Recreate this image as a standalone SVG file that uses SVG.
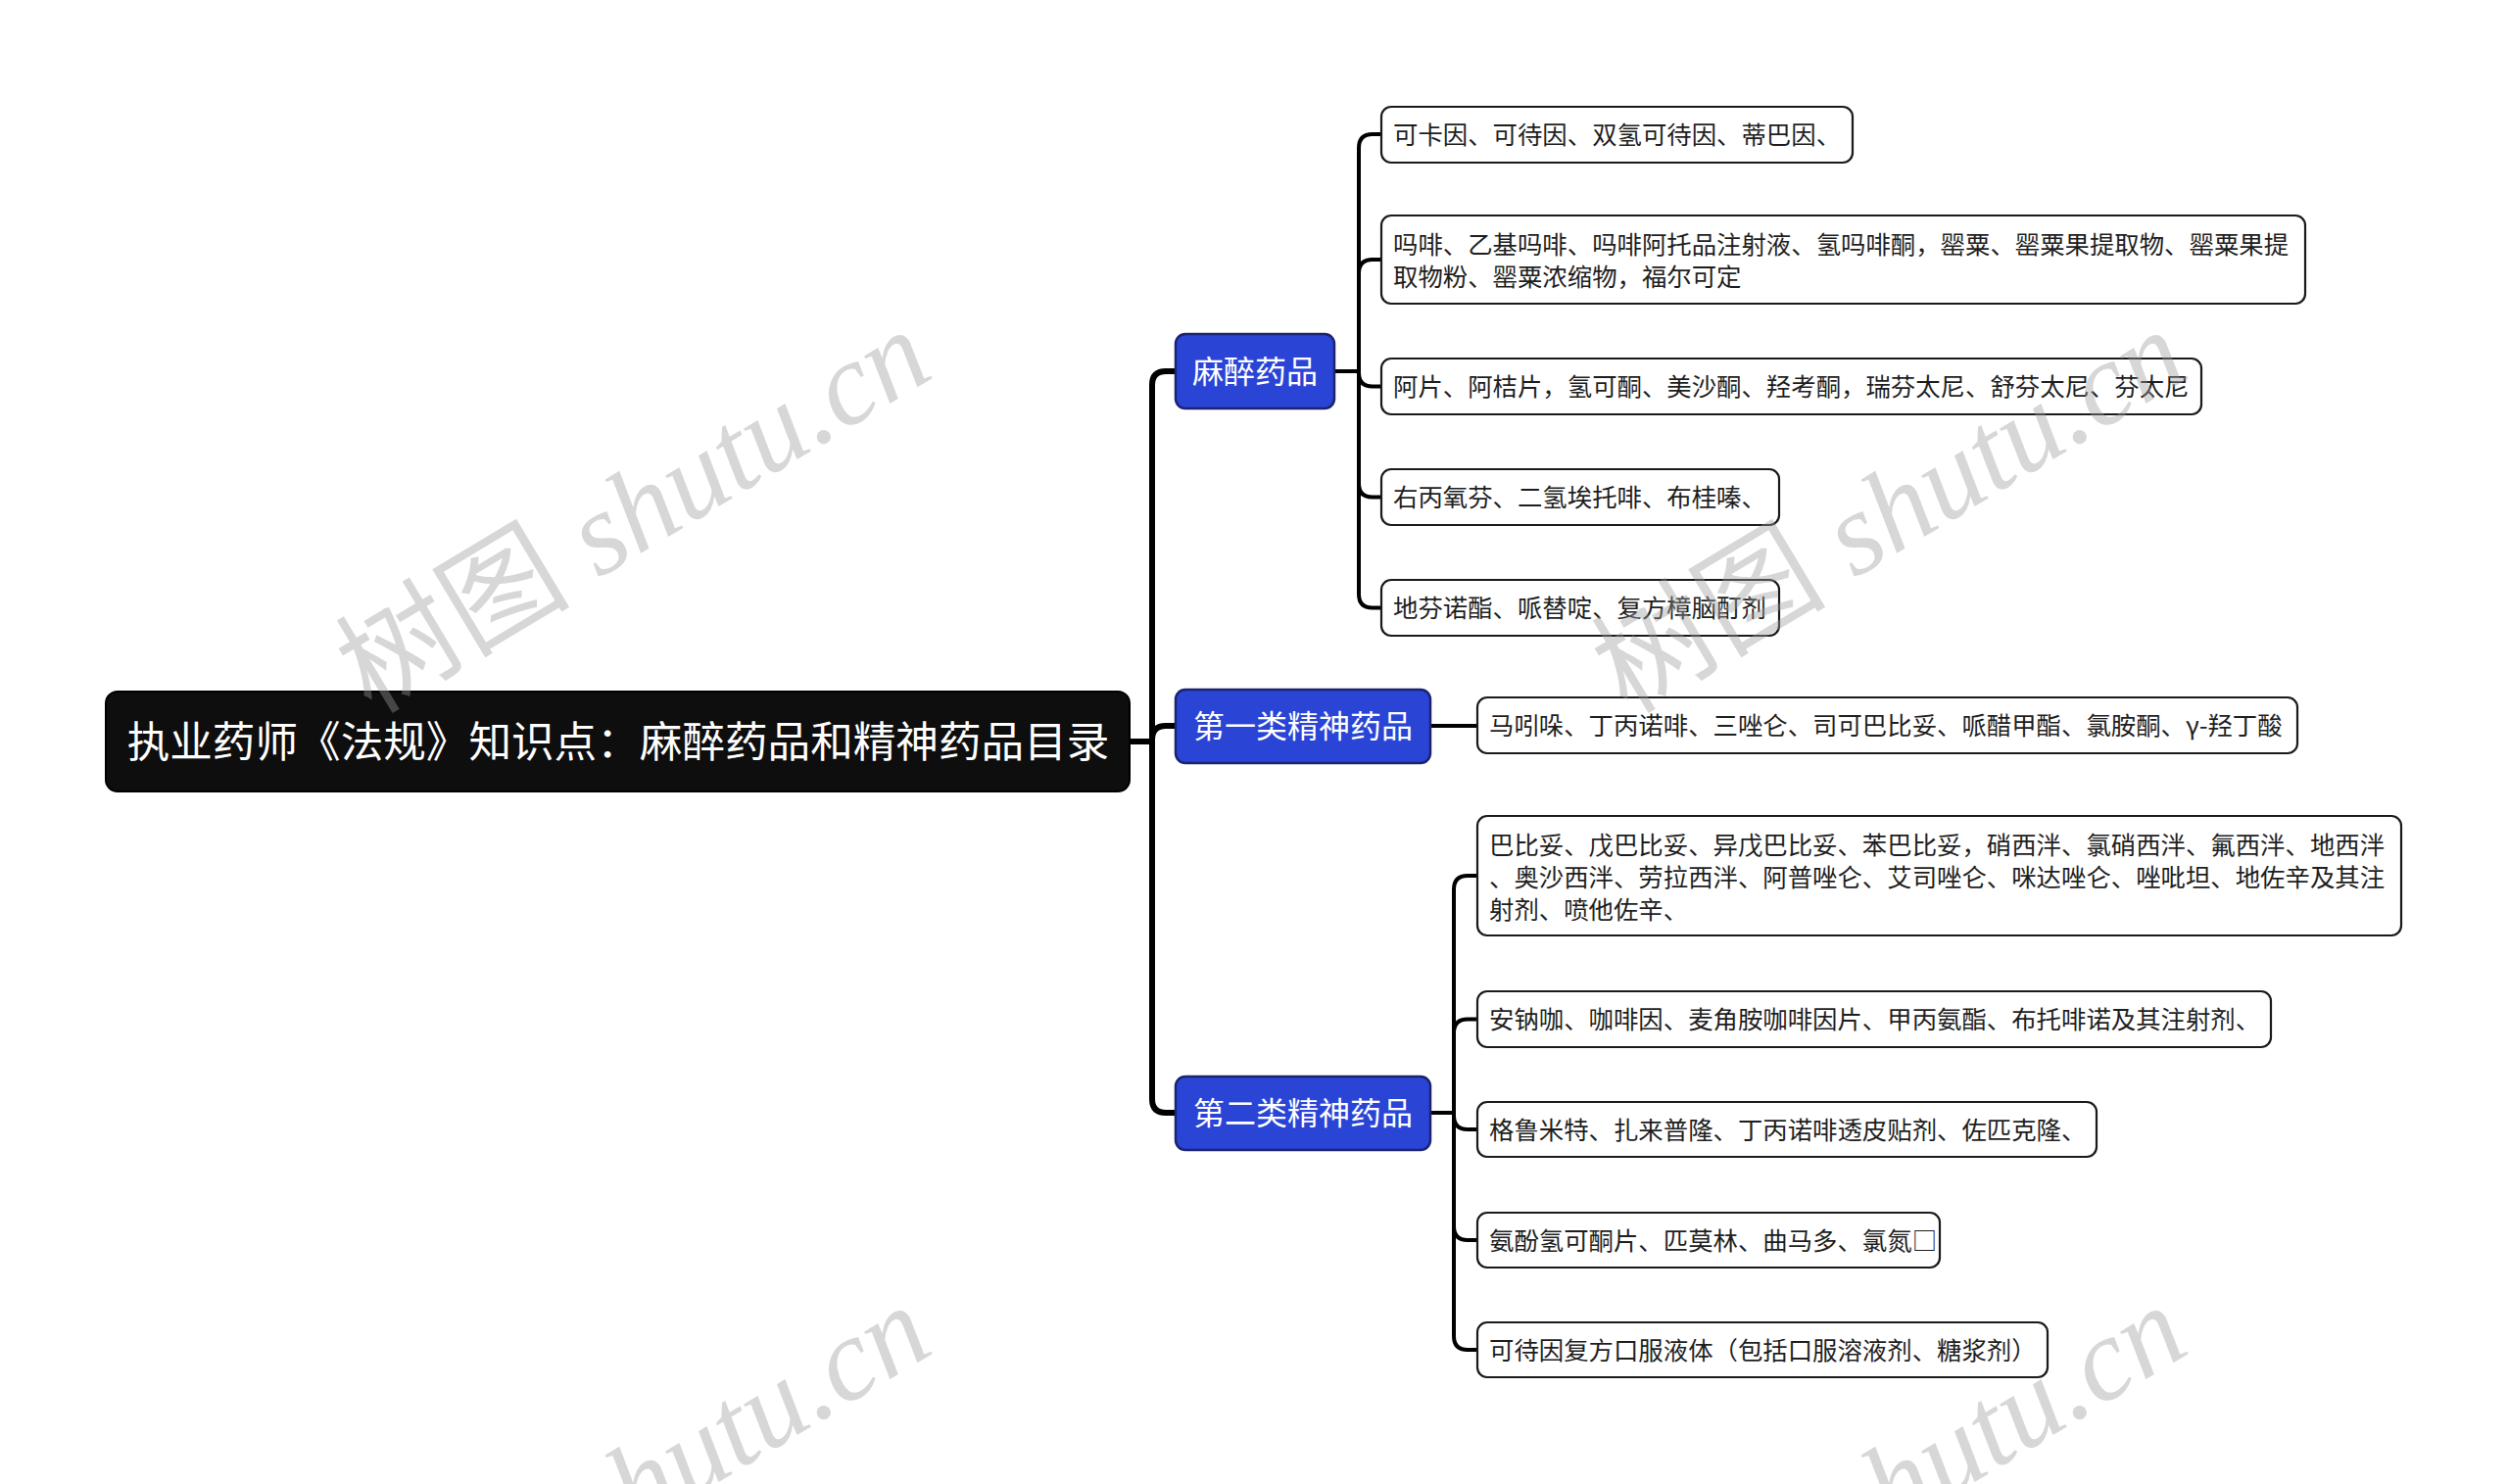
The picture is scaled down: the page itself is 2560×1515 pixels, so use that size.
<svg xmlns="http://www.w3.org/2000/svg" width="2560" height="1515" viewBox="0 0 2560 1515">
<style>
.bg{fill:#ffffff}
.root rect{fill:#0e0e0e;stroke:#000;stroke-width:2}
.root text{fill:#ffffff;font-family:"Noto Sans CJK SC","Noto Sans",sans-serif;font-size:43.6px;text-anchor:middle}
.l1 rect{fill:#2a44d6;stroke:#1a2470;stroke-width:2.5}
.l1 text{fill:#ffffff;font-family:"Noto Sans CJK SC","Noto Sans",sans-serif;font-size:32px;text-anchor:middle}
.leaf rect{fill:#ffffff;stroke:#1a1a1a;stroke-width:2.2}
.leaf text{fill:#1e1e1e;font-family:"Noto Sans CJK SC","Noto Sans",sans-serif;font-size:25.4px}
.c0{fill:none;stroke:#000;stroke-width:6;stroke-linecap:round}
.c1{fill:none;stroke:#000;stroke-width:4;stroke-linecap:round}
.wm{fill:#9a9a9a;fill-opacity:0.4;font-size:120px}
.wm .cjk{font-family:"Noto Sans CJK SC",serif}
.wm .lat{font-family:"Liberation Serif",serif;font-style:italic}
</style>
<rect class="bg" x="0" y="0" width="2560" height="1515"/>

<g id="connectors">
  <path class="c0" d="M1153,757 H1176"/>
  <path class="c0" d="M1176,757 V393 Q1176,379 1190,379 H1199"/>
  <path class="c0" d="M1176,757 V755 Q1176,741 1190,741 H1199"/>
  <path class="c0" d="M1176,757 V1122 Q1176,1136 1190,1136 H1199"/>

  <path class="c1" d="M1363,379 H1387"/>
  <path class="c1" d="M1387,379 V151 Q1387,137 1401,137 H1410"/>
  <path class="c1" d="M1387,379 V279 Q1387,265 1401,265 H1410"/>
  <path class="c1" d="M1387,379 V380.5 Q1387,394.5 1401,394.5 H1410"/>
  <path class="c1" d="M1387,379 V493.5 Q1387,507.5 1401,507.5 H1410"/>
  <path class="c1" d="M1387,379 V606.5 Q1387,620.5 1401,620.5 H1410"/>

  <path class="c1" d="M1461,741 H1508"/>

  <path class="c1" d="M1461,1136 H1484"/>
  <path class="c1" d="M1484,1136 V908 Q1484,894 1498,894 H1508"/>
  <path class="c1" d="M1484,1136 V1054.5 Q1484,1040.5 1498,1040.5 H1508"/>
  <path class="c1" d="M1484,1136 V1139 Q1484,1153 1498,1153 H1508"/>
  <path class="c1" d="M1484,1136 V1252 Q1484,1266 1498,1266 H1508"/>
  <path class="c1" d="M1484,1136 V1364 Q1484,1378 1498,1378 H1508"/>
</g>

<g id="root" class="root">
  <rect x="108" y="706" width="1045" height="102" rx="12"/>
  <text x="631" y="773">执业药师《法规》知识点：麻醉药品和精神药品目录</text>
</g>

<g id="n-mazui" class="l1">
  <rect x="1200" y="341" width="162" height="76" rx="10"/>
  <text x="1281" y="391">麻醉药品</text>
</g>
<g id="n-jingshen1" class="l1">
  <rect x="1200" y="704" width="260" height="75" rx="10"/>
  <text x="1330" y="753">第一类精神药品</text>
</g>
<g id="n-jingshen2" class="l1">
  <rect x="1200" y="1099" width="260" height="75" rx="10"/>
  <text x="1330" y="1148">第二类精神药品</text>
</g>

<g id="m1" class="leaf">
  <rect x="1410" y="109" width="481" height="57" rx="10"/>
  <text x="1422" y="146.5">可卡因、可待因、双氢可待因、蒂巴因、</text>
</g>
<g id="m2" class="leaf">
  <rect x="1410" y="220" width="943" height="90" rx="10"/>
  <text x="1422" y="258.5">吗啡、乙基吗啡、吗啡阿托品注射液、氢吗啡酮，罂粟、罂粟果提取物、罂粟果提</text>
  <text x="1422" y="291.5">取物粉、罂粟浓缩物，福尔可定</text>
</g>
<g id="m3" class="leaf">
  <rect x="1410" y="366" width="837" height="57" rx="10"/>
  <text x="1422" y="404">阿片、阿桔片，氢可酮、美沙酮、羟考酮，瑞芬太尼、舒芬太尼、芬太尼</text>
</g>
<g id="m4" class="leaf">
  <rect x="1410" y="479" width="406" height="57" rx="10"/>
  <text x="1422" y="517">右丙氧芬、二氢埃托啡、布桂嗪、</text>
</g>
<g id="m5" class="leaf">
  <rect x="1410" y="592" width="406" height="57" rx="10"/>
  <text x="1422" y="630">地芬诺酯、哌替啶、复方樟脑酊剂</text>
</g>

<g id="j1" class="leaf">
  <rect x="1508" y="712" width="837" height="57" rx="10"/>
  <text x="1520" y="750">马吲哚、丁丙诺啡、三唑仑、司可巴比妥、哌醋甲酯、氯胺酮、γ-羟丁酸</text>
</g>

<g id="e1" class="leaf">
  <rect x="1508" y="833" width="943" height="122" rx="10"/>
  <text x="1520" y="871.5">巴比妥、戊巴比妥、异戊巴比妥、苯巴比妥，硝西泮、氯硝西泮、氟西泮、地西泮</text>
  <text x="1520" y="904.5">、奥沙西泮、劳拉西泮、阿普唑仑、艾司唑仑、咪达唑仑、唑吡坦、地佐辛及其注</text>
  <text x="1520" y="937.5">射剂、喷他佐辛、</text>
</g>
<g id="e2" class="leaf">
  <rect x="1508" y="1012" width="810" height="57" rx="10"/>
  <text x="1520" y="1050">安钠咖、咖啡因、麦角胺咖啡因片、甲丙氨酯、布托啡诺及其注射剂、</text>
</g>
<g id="e3" class="leaf">
  <rect x="1508" y="1125" width="632" height="56" rx="10"/>
  <text x="1520" y="1162.5">格鲁米特、扎来普隆、丁丙诺啡透皮贴剂、佐匹克隆、</text>
</g>
<g id="e4" class="leaf">
  <rect x="1508" y="1238" width="472" height="56" rx="10"/>
  <text x="1520" y="1275.5">氨酚氢可酮片、匹莫林、曲马多、氯氮□</text>
</g>
<g id="e5" class="leaf">
  <rect x="1508" y="1350" width="582" height="56" rx="10"/>
  <text x="1520" y="1387.5">可待因复方口服液体（包括口服溶液剂、糖浆剂）</text>
</g>

<g id="watermarks" class="wm">
  <text transform="translate(379,730) rotate(-31)"><tspan class="cjk">树图</tspan><tspan class="lat"> shutu.cn</tspan></text>
  <text transform="translate(1661,730) rotate(-31)"><tspan class="cjk">树图</tspan><tspan class="lat"> shutu.cn</tspan></text>
  <text transform="translate(379,1726) rotate(-31)"><tspan class="cjk">树图</tspan><tspan class="lat"> shutu.cn</tspan></text>
  <text transform="translate(1661,1726) rotate(-31)"><tspan class="cjk">树图</tspan><tspan class="lat"> shutu.cn</tspan></text>
</g>
</svg>
